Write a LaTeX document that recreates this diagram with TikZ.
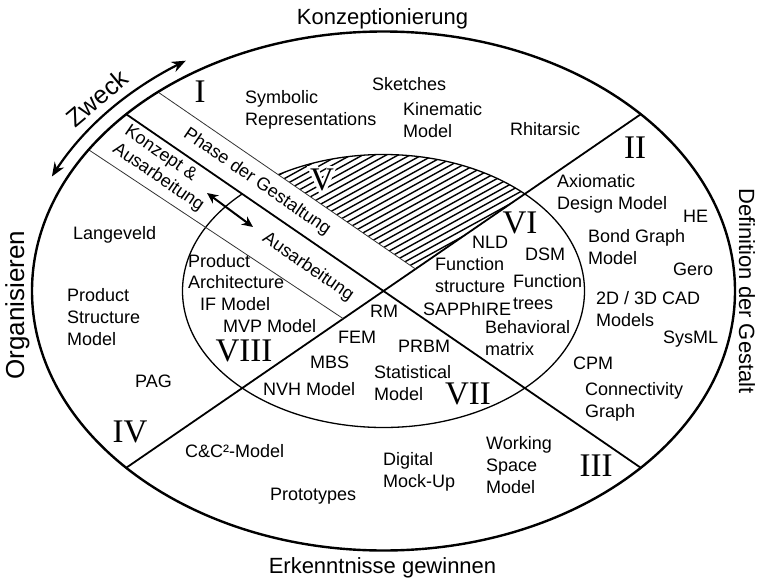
\documentclass[tikz,border=0pt]{standalone}
\usepackage{fontspec}
\setmainfont{Liberation Sans}
\newfontfamily\romanfont{Liberation Serif}
\usetikzlibrary{arrows.meta}
\begin{document}
\begin{tikzpicture}[x=1pt,y=-1pt,
  lbl/.style={inner sep=0pt, font=\fontsize{18}{22}\selectfont, align=left},
  outerlbl/.style={inner sep=0pt, font=\fontsize{22}{26}\selectfont},
  roman/.style={inner sep=0pt, font=\romanfont\fontsize{33}{36}\selectfont},
  thinline/.style={line width=0.8pt, black!80},
  mainline/.style={line width=1.8pt},
  bandtext/.style={inner sep=0pt, font=\fontsize{18}{21}\selectfont, rotate=-34.5, align=left},
  hatchline/.style={line width=1.4pt},
  twohead/.style={{Stealth[length=11pt,width=10pt]}-{Stealth[length=11pt,width=10pt]}},
]
\useasboundingbox (0,0) rectangle (762,586);
% key points
\coordinate (ctr) at (383.5,291);
\coordinate (nw) at (126.2,114.2);
\coordinate (se) at (640.8,467.8);
\coordinate (sw) at (126.2,467.8);
\coordinate (ne) at (640.8,114.2);
\coordinate (tA) at (157.9,92);
\coordinate (tB) at (415.5,269);
\coordinate (lA) at (89,150);
\coordinate (lB) at (343,318.5);
% inner ellipse
\draw[line width=1.3pt] (ctr) ellipse [x radius=201pt, y radius=136.5pt];
% hatched region V
\begin{scope}
  \clip (ctr) ellipse [x radius=201pt, y radius=136.5pt];
  \clip (tB) -- (133.5,75.25) -- (133.5,0) -- (700,0) -- (683.5,85) -- cycle;
  \foreach \k in {296,302.5,...,520} \draw[hatchline] (250,\k-137.5) -- (560,\k-308);
\end{scope}
% white halo behind the numeral V
\fill[white] (307,166) -- (318,166) -- (322.5,180) -- (327,166) -- (337,166) -- (325,194) -- (319.5,194) -- cycle;
% white band "Phase der Gestaltung"
\fill[white] (tA) -- (tB) -- (ctr) -- (nw) -- cycle;
% lines
\draw[mainline] (nw) -- (se);
\draw[mainline] (sw) -- (ne);
\draw[thinline] (tA) -- (tB);
\draw[thinline] (lA) -- (lB);
% outer ellipse
\draw[line width=2.4pt] (ctr) ellipse [x radius=351.5pt, y radius=259.5pt];
% Zweck arrow
\draw[line width=2.2pt, {Stealth[length=14pt,width=11pt]}-{Stealth[length=14pt,width=11pt]}]
  plot[domain=204.7:237.2, samples=40] ({383.5+365*cos(\x)},{291+274*sin(\x)});
\node[inner sep=0pt, rotate=40, font=\fontsize{25}{28}\selectfont] (zweck) at (97,98) {Zweck};
% band arrow
\coordinate (ba1) at (207,193);
\coordinate (ba2) at (253,227);
\draw[line width=2pt, twohead] (ba1) -- (ba2);
% band texts
\node[bandtext] (phase) at (257,182) {Phase der Gestaltung};
\node[bandtext] (konz) at (164,169) {Konzept \&\\Ausarbeitung};
\node[bandtext] (ausarb) at (308,267) {Ausarbeitung};
% outer labels
\node[outerlbl, anchor=base] (konzept) at (382.5,25) {Konzeptionierung};
\node[outerlbl, anchor=base] (erk) at (382.5,573) {Erkenntnisse gewinnen};
\node[outerlbl, anchor=base, rotate=90, font=\fontsize{26}{29}\selectfont] (org) at (24,305) {Organisieren};
\node[outerlbl, anchor=base, rotate=-90] (def) at (739,291) {Definition der Gestalt};
% roman numerals
\node[roman] (r5) at (322,180) {V};
\node[roman] (r1) at (200,92) {I};
\node[roman] (r2) at (635,148) {II};
\node[roman] (r3) at (596,466) {III};
\node[roman] (r4) at (130,432) {IV};
\node[roman] (r6) at (520,223) {VI};
\node[roman] (r7) at (468,394) {VII};
\node[roman] (r8) at (244,351) {VIII};
% Region I
\node[lbl, anchor=north west] (symb) at (245,90) {Symbolic\\Representations};
\node[lbl, anchor=base west] (sketch) at (372,90) {Sketches};
\node[lbl, anchor=north west] (kin) at (403,102) {Kinematic\\Model};
\node[lbl, anchor=base west] (rhit) at (510,135) {Rhitarsic};
% Region II
\node[lbl, anchor=north west] (axio) at (557,174) {Axiomatic\\Design Model};
\node[lbl, anchor=base west] (he) at (683,222) {HE};
\node[lbl, anchor=north west] (bond) at (588,229) {Bond Graph\\Model};
\node[lbl, anchor=base west] (gero) at (673,275) {Gero};
\node[lbl, anchor=north west] (cad) at (596,291) {2D / 3D CAD\\Models};
\node[lbl, anchor=base west] (sysml) at (663,343) {SysML};
% Region III
\node[lbl, anchor=base west] (cpm) at (573,369) {CPM};
\node[lbl, anchor=north west] (conn) at (585,382) {Connectivity\\Graph};
\node[lbl, anchor=north west] (work) at (486,436) {Working\\Space\\Model};
\node[lbl, anchor=north west] (dmu) at (383,452) {Digital\\Mock-Up};
\node[lbl, anchor=base west] (proto) at (270,500) {Prototypes};
% Region IV
\node[lbl, anchor=base west] (cc) at (185,457) {C\&C²-Model};
\node[lbl, anchor=base west] (pag) at (135,387) {PAG};
\node[lbl, anchor=north west] (psm) at (67,288) {Product\\Structure\\Model};
\node[lbl, anchor=base west] (lange) at (73,239) {Langeveld};
% Region VIII
\node[lbl, anchor=base west] (prod) at (188,267) {Product};
\node[lbl, anchor=base west] (arch) at (188,288) {Architecture};
\node[lbl, anchor=base west] (ifm) at (200,310) {IF Model};
\node[lbl, anchor=base west] (mvp) at (223,332) {MVP Model};
% Region VII
\node[lbl, anchor=base west] (rm) at (370,317) {RM};
\node[lbl, anchor=base west] (fem) at (338,343) {FEM};
\node[lbl, anchor=base west] (mbs) at (310,368) {MBS};
\node[lbl, anchor=base west] (nvh) at (263,395) {NVH Model};
\node[lbl, anchor=base west] (prbm) at (398,352) {PRBM};
\node[lbl, anchor=north west] (stat) at (374,365) {Statistical\\Model};
% Region VI
\node[lbl, anchor=base west] (nld) at (472,248) {NLD};
\node[lbl, anchor=north west] (fstr) at (435,257) {Function\\structure};
\node[lbl, anchor=base west] (sapp) at (423,315) {SAPPhIRE};
\node[lbl, anchor=base west] (dsm) at (525,260) {DSM};
\node[lbl, anchor=north west] (ftree) at (513,274) {Function\\trees};
\node[lbl, anchor=north west] (behav) at (485,320) {Behavioral\\matrix};
\end{tikzpicture}
\end{document}
